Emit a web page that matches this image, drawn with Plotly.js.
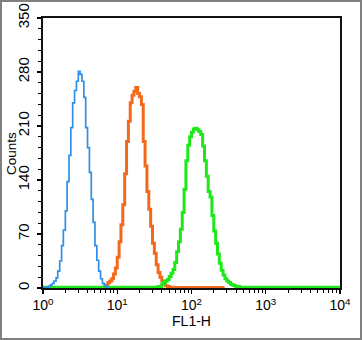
<!DOCTYPE html>
<html>
<head>
<meta charset="utf-8">
<script src="https://cdn.plot.ly/plotly-3.0.1.min.js"></script>
<style>
  html, body { margin: 0; padding: 0; background: #fff; }
  #frame { position: absolute; left: 0; top: 0; width: 358px; height: 336px; border: 2px solid #808080; }
</style>
</head>
<body>
<div id="frame"><div id="chart" style="width:358px;height:336px;"></div></div>
<script>
// FL1-H channel positions and counts
const blueX = [1.00, 1.12, 1.19, 1.26, 1.33, 1.41, 1.50, 1.58, 1.68, 1.78, 1.88, 2.00, 2.11, 2.24, 2.37, 2.51, 2.66, 2.82, 2.99, 3.16, 3.35, 3.55, 3.76, 3.98, 4.22, 4.47, 4.73, 5.01, 5.31, 5.62, 5.96, 6.31, 6.68, 7.08, 7.50];
const blueY = [1, 1, 2, 4, 6, 9, 13, 22, 35, 55, 75, 100, 138, 172, 208, 240, 256, 268, 281, 277, 268, 247, 208, 182, 150, 115, 85, 55, 36, 22, 12, 6, 3, 1, 0];

const orangeX = [2.51, 5.62, 6.31, 7.08, 7.50, 7.94, 8.41, 8.91, 9.44, 10.0, 10.59, 11.22, 11.89, 12.59, 13.34, 14.13, 14.96, 15.85, 16.79, 17.78, 18.84, 19.95, 21.14, 22.39, 23.71, 25.12, 26.61, 28.18, 29.85, 31.62, 33.50, 35.48, 37.58, 39.81, 42.17, 44.67, 47.32, 50.12, 56.23, 266.1];
const orangeY = [0, 0, 1, 4, 7, 9, 12, 18, 26, 40, 60, 82, 108, 148, 190, 216, 240, 250, 255, 260, 252, 248, 238, 190, 158, 125, 102, 80, 58, 45, 30, 20, 14, 9, 6, 3, 2, 1, 0.5, 0];

const greenX = [1.0, 31.62, 35.48, 39.81, 42.17, 44.67, 47.32, 50.12, 53.09, 56.23, 59.57, 63.10, 66.83, 70.79, 74.99, 79.43, 84.14, 89.13, 94.41, 100.0, 105.93, 112.20, 118.85, 125.89, 133.35, 141.25, 149.62, 158.49, 167.88, 177.83, 188.36, 199.53, 211.35, 223.87, 237.14, 251.19, 266.07, 281.84, 298.54, 316.23, 334.97, 354.81, 375.84, 398.11, 446.68, 10000];
const greenY = [1, 1, 2, 5, 7, 9, 11, 15, 19, 24, 33, 47, 60, 76, 98, 128, 165, 185, 196, 202, 206, 207, 205, 203, 199, 184, 165, 145, 125, 118, 94, 74, 58, 44, 32, 23, 17, 12, 9, 7, 5, 4, 3, 2, 1, 1];

const xTickVals = [1, 10, 100, 1000, 10000];
const xTickText = ['10<sup>0</sup>', '10<sup>1</sup>', '10<sup>2</sup>', '10<sup>3</sup>', '10<sup>4</sup>'];
const yTickVals = [0, 70, 140, 210, 280, 350];
const yTitle = 'Counts';

const minorX = [];
for (let d = 1; d < 10000; d *= 10) {
  for (let k = 2; k <= 9; k++) minorX.push(k * d);
}

const fam = 'Liberation Sans, Arial, sans-serif';
const ink = '#000';

const traces = [
  { x: orangeX, y: orangeY, mode: 'lines', line: { color: '#f2691c', width: 3, shape: 'hv' }, hoverinfo: 'skip' },
  { x: greenX, y: greenY, mode: 'lines', line: { color: '#1fe81a', width: 3, shape: 'hv' }, hoverinfo: 'skip' },
  { x: blueX, y: blueY, mode: 'lines', line: { color: '#2f8fe6', width: 1.7, shape: 'hv' }, hoverinfo: 'skip' }
];

const layout = {
  width: 358, height: 336,
  margin: { l: 41, r: 20, t: 16, b: 50 },
  paper_bgcolor: '#fff', plot_bgcolor: '#fff',
  showlegend: false,
  font: { family: fam, size: 13, color: ink },
  xaxis: {
    type: 'log', range: [0, 4],
    tickmode: 'array', tickvals: xTickVals, ticktext: xTickText,
    ticks: 'outside', ticklen: 4, tickwidth: 1.2, tickcolor: ink,
    minor: { tickmode: 'array', tickvals: minorX, ticks: 'outside', ticklen: 3, tickwidth: 1, tickcolor: ink },
    showline: true, linecolor: '#111', linewidth: 1.6, mirror: true,
    showgrid: false, zeroline: false,
    tickfont: { family: fam, size: 14, color: ink },
    title: { text: 'FL1-H', font: { family: fam, size: 14, color: ink }, standoff: 4 }
  },
  yaxis: {
    range: [0, 350],
    tickmode: 'array', tickvals: yTickVals,
    tickangle: -90,
    ticks: 'outside', ticklen: 4, tickwidth: 1.2, tickcolor: ink,
    ticklabelstandoff: 2,
    minor: { dtick: 14, tick0: 0, ticks: 'outside', ticklen: 3, tickwidth: 1, tickcolor: ink },
    showline: true, linecolor: '#111', linewidth: 1.6, mirror: true,
    showgrid: false, zeroline: false,
    tickfont: { family: fam, size: 15, color: ink }
  },
  annotations: [{
    text: yTitle, xref: 'paper', yref: 'paper', x: -0.108, y: 0.5,
    xanchor: 'center', yanchor: 'middle', textangle: -90, showarrow: false,
    font: { family: fam, size: 13.5, color: ink }
  }]
};

Plotly.newPlot('chart', traces, layout, { staticPlot: true, displayModeBar: false });
</script>
</body>
</html>
